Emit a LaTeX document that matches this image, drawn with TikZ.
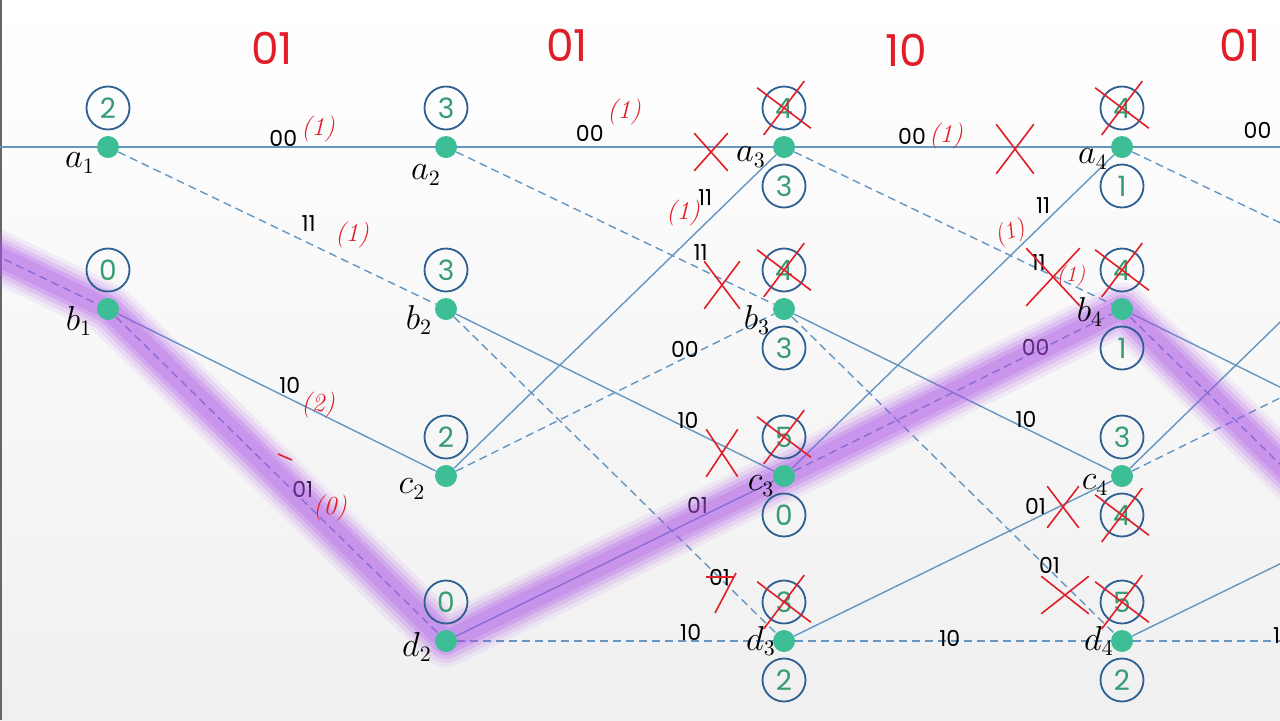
\documentclass[tikz,border=0pt]{standalone}
\usepackage{fontspec}
\newfontfamily\gothic{Poppins}
\usetikzlibrary{positioning,backgrounds,shapes.misc}
\definecolor{trellisblue}{RGB}{100,150,195}
\definecolor{dotgreen}{RGB}{62,190,150}
\definecolor{ringblue}{RGB}{45,95,145}
\definecolor{digitgreen}{RGB}{55,155,115}
\definecolor{penred}{RGB}{225,30,40}
\definecolor{pathviolet}{RGB}{170,80,230}
\tikzstyle{statedot} = [circle, fill=dotgreen, minimum size=11pt, inner sep=0pt]
\tikzstyle{metric} = [circle, draw=ringblue, line width=0.9pt, minimum size=21.5pt, inner sep=0pt, text=digitgreen, font=\gothic\fontsize{14}{14}\selectfont]
\tikzstyle{statelab} = [font=\fontsize{16}{16}\selectfont]
\tikzstyle{solidbranch} = [draw=trellisblue, line width=0.7pt]
\tikzstyle{dashbranch} = [solidbranch, dash pattern=on 4pt off 2.5pt]
\tikzstyle{elab} = [font=\gothic\fontsize{11}{11}\selectfont, inner sep=1pt]
\tikzstyle{bits} = [text=penred, font=\gothic\fontsize{22}{22}\selectfont]
\tikzstyle{pen} = [text=penred, font=\itshape\fontsize{13}{13}\selectfont]
\tikzstyle{xmark} = [cross out, draw=penred, line width=0.8pt, inner sep=0pt]

\begin{document}
\begin{tikzpicture}[x=0.5pt, y=-0.5pt, on grid, >=latex]
\useasboundingbox (0,0) rectangle (1280,720);

% received bits
\node [bits] (h12) at (272,48) {01};
\node [bits] (h23) at (567,45) {01};
\node [bits] (h34) at (906,50) {10};
\node [bits] (h45) at (1240,45) {01};

% states
\node [statedot, label={[statelab,xshift=-14pt,yshift=-8pt]center:$a_1$}] (a1) at (108,147) {};
\node [statedot, below=81pt of a1, label={[statelab,xshift=-14.5pt,yshift=-6pt]center:$b_1$}] (b1) {};
\node [statedot, right=169pt of a1, label={[statelab,xshift=-10pt,yshift=-14pt]center:$a_2$}] (a2) {};
\node [statedot, below=81pt of a2, label={[statelab,xshift=-13.5pt,yshift=-5.5pt]center:$b_2$}] (b2) {};
\node [statedot, below=83.5pt of b2, label={[statelab,xshift=-17pt,yshift=-6.5pt]center:$c_2$}] (c2) {};
\node [statedot, below=82.5pt of c2, label={[statelab,xshift=-14.5pt,yshift=-3pt]center:$d_2$}] (d2) {};
\node [statedot, right=169pt of a2, label={[statelab,xshift=-16.5pt,yshift=-5pt]center:$a_3$}] (a3) {};
\node [statedot, below=81pt of a3, label={[statelab,xshift=-13.5pt,yshift=-5.5pt]center:$b_3$}] (b3) {};
\node [statedot, below=83.5pt of b3, label={[statelab,xshift=-11.5pt,yshift=-5pt]center:$c_3$}] (c3) {};
\node [statedot, below=82.5pt of c3, label={[statelab,xshift=-11.5pt,yshift=0pt]center:$d_3$}] (d3) {};
\node [statedot, right=169pt of a3, label={[statelab,xshift=-14.5pt,yshift=-6pt]center:$a_4$}] (a4) {};
\node [statedot, below=81pt of a4, label={[statelab,xshift=-16pt,yshift=-1.5pt]center:$b_4$}] (b4) {};
\node [statedot, below=83.5pt of b4, label={[statelab,xshift=-13.5pt,yshift=-4.5pt]center:$c_4$}] (c4) {};
\node [statedot, below=82.5pt of c4, label={[statelab,xshift=-11.5pt,yshift=0pt]center:$d_4$}] (d4) {};

% states outside the frame
\coordinate [left=169pt of a1] (a0);
\coordinate [right=169pt of a4] (a5);
\coordinate [below=81pt of a5] (b5);
\coordinate [below=83.5pt of b5] (c5);
\coordinate [below=82.5pt of c5] (d5);

% path metrics
\node [metric, above=19.5pt of a1] (a1top) {2};
\node [metric, above=19.5pt of b1] (b1top) {0};
\node [metric, above=19.5pt of a2] (a2top) {3};
\node [metric, above=19.5pt of b2] (b2top) {3};
\node [metric, above=19.5pt of c2] (c2top) {2};
\node [metric, above=19.5pt of d2] (d2top) {0};
\node [metric, above=19.5pt of a3] (a3top) {4};
\node [metric, below=19.5pt of a3] (a3bot) {3};
\node [metric, above=19.5pt of b3] (b3top) {4};
\node [metric, below=19.5pt of b3] (b3bot) {3};
\node [metric, above=19.5pt of c3] (c3top) {5};
\node [metric, below=19.5pt of c3] (c3bot) {0};
\node [metric, above=19.5pt of d3] (d3top) {3};
\node [metric, below=19.5pt of d3] (d3bot) {2};
\node [metric, above=19.5pt of a4] (a4top) {4};
\node [metric, below=19.5pt of a4] (a4bot) {1};
\node [metric, above=19.5pt of b4] (b4top) {4};
\node [metric, below=19.5pt of b4] (b4bot) {1};
\node [metric, above=19.5pt of c4] (c4top) {3};
\node [metric, below=19.5pt of c4] (c4bot) {4};
\node [metric, above=19.5pt of d4] (d4top) {5};
\node [metric, below=19.5pt of d4] (d4bot) {2};

\begin{scope}[on background layer]
\shade [top color=white, bottom color=black!6] (0,0) rectangle (1280,720);
\draw [black!60, line width=0.8pt] (1,0) -- (1,720);
\clip (0,0) rectangle (1280,720);

\draw [solidbranch] (a0) -- (a1);
\draw [dashbranch] (a0) -- (b1);

\draw [solidbranch] (a1) -- node [elab, pos=.52, above=-1pt] {00} (a2);
\draw [dashbranch] (a1) -- node [elab, pos=.6, above=4.5pt] {11} (b2);
\draw [solidbranch] (b1) -- node [elab, pos=.54, above=1.5pt] {10} (c2);
\draw [dashbranch] (b1) -- node [elab, pos=.58, above=0pt] {01} (d2);

\draw [solidbranch] (a2) -- node [elab, pos=.42, above=1.5pt] {00} (a3);
\draw [dashbranch] (a2) -- node [elab, pos=.77, above=3pt] {11} (b3);
\draw [solidbranch] (b2) -- node [elab, pos=.73, above=-1.5pt] {10} (c3);
\draw [dashbranch] (b2) -- node [elab, pos=.825, above=-5pt] (struck) {01} (d3);
\draw [solidbranch] (c2) -- node [elab, pos=.78, above=8pt] {11} (a3);
\draw [dashbranch] (c2) -- node [elab, pos=.72, above=-1pt] {00} (b3);
\draw [solidbranch] (d2) -- node [elab, pos=.76, above=1pt] {01} (c3);
\draw [dashbranch] (d2) -- node [elab, pos=.74, above=-1pt] {10} (d3);

\draw [solidbranch] (a3) -- node [elab, pos=.37, above=0pt] {00} (a4);
\draw [dashbranch] (a3) -- node [elab, pos=.77, above=-2pt] {11} (b4);
\draw [solidbranch] (b3) -- node [elab, pos=.73, above=-1pt] {10} (c4);
\draw [dashbranch] (b3) -- node [elab, pos=.80, above=-3pt] {01} (d4);
\draw [solidbranch] (c3) -- node [elab, pos=.78, above=4pt] {11} (a4);
\draw [dashbranch] (c3) -- node [elab, pos=.76, above=-3pt] {00} (b4);
\draw [solidbranch] (d3) -- node [elab, pos=.76, above=.5pt] {01} (c4);
\draw [dashbranch] (d3) -- node [elab, pos=.49, above=-4pt] {10} (d4);

\draw [solidbranch] (a4) -- node [elab, pos=.38, above=3pt] {00} (a5);
\draw [dashbranch] (a4) -- (b5);
\draw [solidbranch] (b4) -- (c5);
\draw [dashbranch] (b4) -- (d5);
\draw [solidbranch] (c4) -- (a5);
\draw [dashbranch] (c4) -- (b5);
\draw [solidbranch] (d4) -- (c5);
\draw [dashbranch] (d4) -- node [elab, pos=.46, above=-2.5pt] {10} (d5);

% survivor path
\foreach \w/\o in {26/.08, 22/.12, 18/.16, 14/.22, 10/.2}
  \draw [pathviolet, line width=\w pt, opacity=\o, line join=round, line cap=round]
    (a0) -- (b1.center) -- (d2.center) -- (c3.center) -- (b4.center) -- (d5);
\end{scope}

% hand notes
\node [pen] (n1) at (318,129) {(1)};
\node [pen] (n2) at (352,235) {(1)};
\node [pen] (n3) at (318,405) {(2)};
\node [pen] (n4) at (330,508) {(0)};
\node [pen] (n5) at (624,112) {(1)};
\node [pen] (n6) at (683,213) {(1)};
\node [pen] (n7) at (946,136) {(1)};
\node [pen, rotate=20, font=\itshape\fontsize{12}{12}\selectfont] (n8) at (1010,233) {(1)};
\node [pen, font=\itshape\fontsize{11}{11}\selectfont] (n9) at (1071,276) {(1)};
\draw [penred, line width=0.8pt] (278,454) -- (292,460);

\node [xmark, minimum width=16pt, minimum height=18pt] (x1) at (711,152) {};
\node [xmark, minimum width=17pt, minimum height=23pt] (x2) at (722,285) {};
\node [xmark, minimum width=15pt, minimum height=23pt] (x3) at (722,453) {};
\node [xmark, minimum width=18pt, minimum height=24pt] (x4) at (1015,149) {};
\node [xmark, minimum width=26pt, minimum height=28pt] (x5) at (1053,277) {};
\node [xmark, minimum width=15pt, minimum height=20pt] (x6) at (1063,507) {};
\node [xmark, minimum width=23pt, minimum height=18pt] (x7) at (1065,595) {};
\draw [penred, line width=0.8pt] (struck.west) -- (struck.east);
\draw [penred, line width=0.8pt] (715,613) -- (736,573);

\foreach \c in {a3top, b3top, c3top, d3top, a4top, b4top, c4bot, d4top}
  \node [xmark, minimum size=23pt, rotate=8] at (\c) {};

\end{tikzpicture}
\end{document}
